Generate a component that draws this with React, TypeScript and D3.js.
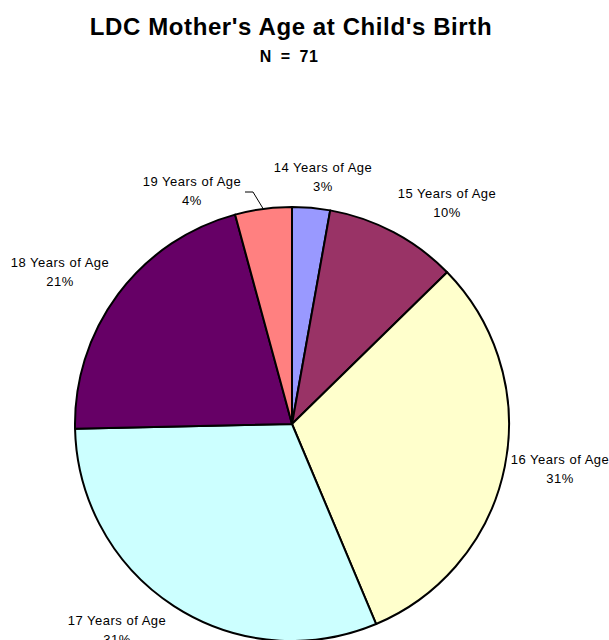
import React from "react";
import * as d3 from "d3";

const categories = ["14 Years of Age", "15 Years of Age", "16 Years of Age", "17 Years of Age", "18 Years of Age", "19 Years of Age"];
const counts = [2, 7, 22, 22, 15, 3];
const percentLabels = ["3%", "10%", "31%", "31%", "21%", "4%"];
const colors = ["#9999FF", "#993366", "#FFFFCC", "#CCFFFF", "#660066", "#FF8080"];
const labelPositions: [number, number][] = [
  [323, 172],
  [447, 198],
  [560, 464],
  [117, 625],
  [60, 267],
  [192, 186],
];

export default function App() {
  const W = 609, H = 640;
  const cx = 292, cy = 424, r = 217;
  const pie = d3.pie<number>().sort(null).value((d) => d);
  const arcs = pie(counts);
  const arcGen = d3.arc<d3.PieArcDatum<number>>().innerRadius(0).outerRadius(r);
  const font = "'Liberation Sans', Arial, sans-serif";
  const a19 = arcs[5];
  const mid19 = (a19.startAngle + a19.endAngle) / 2;
  const ex = cx + Math.sin(mid19) * r;
  const ey = cy - Math.cos(mid19) * r;
  return (
    <svg width={W} height={H} style={{ position: "absolute", left: 0, top: 0, background: "#fff" }} fontFamily={font}>
      <text x={291} y={35} textAnchor="middle" fontSize={24} fontWeight="bold" letterSpacing={0.6}>LDC Mother's Age at Child's Birth</text>
      <text x={289} y={62} textAnchor="middle" fontSize={16} fontWeight="bold" wordSpacing={4} letterSpacing={0.5}>N = 71</text>
      <g transform={`translate(${cx},${cy})`}>
        {arcs.map((a, i) => (
          <path key={i} d={arcGen(a) || ""} fill={colors[i]} stroke="#000" strokeWidth={2} strokeLinejoin="round" />
        ))}
      </g>
      <polyline points={`245,192 253,192 ${ex},${ey}`} fill="none" stroke="#000" strokeWidth={1} />
      {categories.map((c, i) => (
        <text key={c} x={labelPositions[i][0]} y={labelPositions[i][1]} textAnchor="middle" fontSize={13} fill="#000" letterSpacing={0.5}>
          <tspan x={labelPositions[i][0]}>{c}</tspan>
          <tspan x={labelPositions[i][0]} dy={19}>{percentLabels[i]}</tspan>
        </text>
      ))}
    </svg>
  );
}
